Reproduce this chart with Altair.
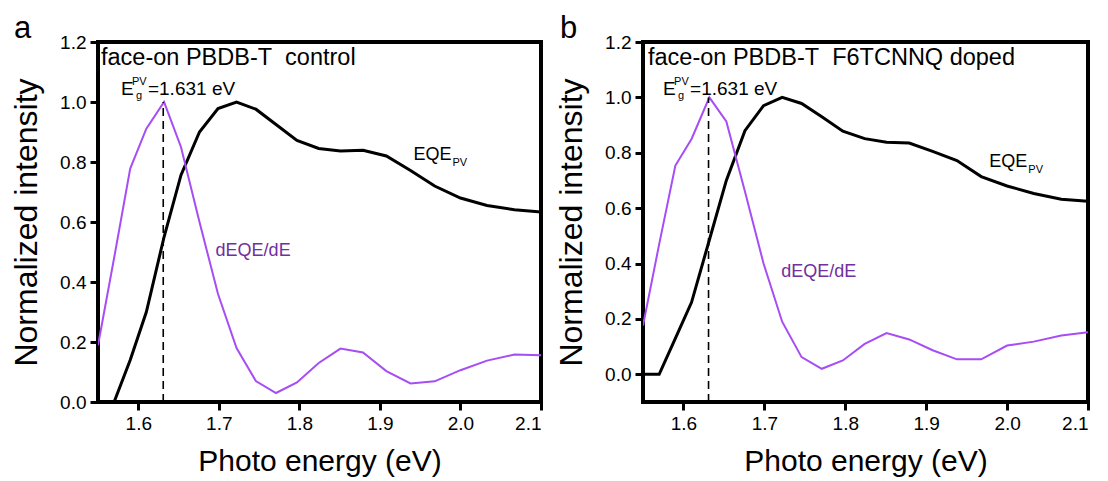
import altair as alt
import pandas as pd

# photon energies of the data points (eV)
energy = [1.550, 1.570, 1.590, 1.610, 1.632, 1.653, 1.676, 1.699, 1.722, 1.746, 1.771,
          1.797, 1.824, 1.851, 1.879, 1.908, 1.938, 1.968, 2.000, 2.033, 2.067, 2.100]

# panel a: control
eqe_a = [0.0, 0.0, 0.14, 0.30, 0.55, 0.756, 0.90, 0.978, 1.0, 0.976, 0.925,
         0.872, 0.845, 0.837, 0.839, 0.82, 0.772, 0.72, 0.68, 0.655, 0.641, 0.633]
deqe_a = [0.189, 0.48, 0.778, 0.911, 1.0, 0.85, 0.60, 0.36, 0.18, 0.07, 0.03,
          0.065, 0.13, 0.178, 0.165, 0.103, 0.062, 0.069, 0.106, 0.138, 0.158, 0.156]

# panel b: F6TCNNQ doped
eqe_b = [0.0, 0.0, 0.13, 0.26, 0.485, 0.70, 0.88, 0.97, 1.0, 0.978, 0.93,
         0.878, 0.851, 0.838, 0.835, 0.805, 0.772, 0.714, 0.68, 0.653, 0.632, 0.625]
deqe_b = [0.176, 0.47, 0.754, 0.85, 1.0, 0.913, 0.66, 0.40, 0.19, 0.062, 0.02,
          0.05, 0.11, 0.149, 0.126, 0.087, 0.054, 0.054, 0.104, 0.118, 0.14, 0.152]

x_ticks = [1.6, 1.7, 1.8, 1.9, 2.0, 2.1]
y_ticks = [0.0, 0.2, 0.4, 0.6, 0.8, 1.0, 1.2]
eg_value = 1.631
eg_peak = 1.0

FONT = "Liberation Sans"
PURPLE = "#A64DF5"
PURPLE_TXT = "#7030A0"
NB = "\u00a0"


def panel(eqe, deqe, ymin, heading, letter, width, pos):
    df = pd.DataFrame({"E": energy, "EQE": eqe, "dEQE": deqe})
    one = pd.DataFrame({"k": [0]})
    xs = alt.Scale(domain=[1.55, 2.1], nice=False, zero=False)
    ys = alt.Scale(domain=[ymin, 1.2], nice=False, zero=False)
    x = alt.X("E:Q", scale=xs,
              axis=alt.Axis(values=x_ticks, format=".1f", title="Photo energy (eV)"))
    y = alt.Y("EQE:Q", scale=ys,
              axis=alt.Axis(values=y_ticks, format=".1f", title="Normalized intensity"))
    base = alt.Chart(df)
    l_eqe = base.mark_line(color="black", strokeWidth=3, clip=True).encode(x=x, y=y)
    l_de = base.mark_line(color=PURPLE, strokeWidth=2, clip=True).encode(
        x=alt.X("E:Q", scale=xs), y=alt.Y("dEQE:Q", scale=ys))
    rule = alt.Chart(one).mark_rule(color="black", strokeWidth=1.6, strokeDash=[8, 5]).encode(
        x=alt.datum(eg_value), y=alt.datum(ymin), y2=alt.datum(eg_peak))

    def txt(xv, yv, s, size, color="black", dx=0, dy=0):
        return alt.Chart(one).mark_text(text=s, font=FONT, fontSize=size, color=color,
                                        align="left", baseline="alphabetic", dx=dx, dy=dy).encode(
            x=alt.datum(xv), y=alt.datum(yv))

    letter_mark = alt.Chart(one).mark_text(
        text=letter, font=FONT, fontSize=31, color="black", align="left",
        baseline="alphabetic").encode(x=alt.value(pos["letter_dx"]), y=alt.value(-4))

    layers = [l_eqe, l_de, rule,
              txt(pos["head"][0], pos["head"][1], heading, 23.5),
              txt(pos["eg"][0], pos["eg"][1], "E", 19),
              txt(pos["eg"][0], pos["eg"][1], "PV", 11, dx=11, dy=-10),
              txt(pos["eg"][0], pos["eg"][1], "g", 11, dx=15, dy=4),
              txt(pos["eg"][0], pos["eg"][1], "=1.631 eV", 19, dx=27),
              txt(pos["eqe"][0], pos["eqe"][1], "EQE", 18),
              txt(pos["eqe"][0], pos["eqe"][1], "PV", 11, dx=39, dy=6),
              txt(pos["de"][0], pos["de"][1], "dEQE/dE", 18, color=PURPLE_TXT),
              letter_mark]
    return alt.layer(*layers).properties(width=width, height=360)


pos_a = {"head": (1.5537, 1.123), "eg": (1.5785, 1.023), "eqe": (1.9416, 0.807),
         "de": (1.696, 0.487), "letter_dx": -84}
pos_b = {"head": (1.5562, 1.117), "eg": (1.5748, 1.008), "eqe": (1.978, 0.748),
         "de": (1.7208, 0.351), "letter_dx": -83}

pa = panel(eqe_a, deqe_a, 0.0, "face-on PBDB-T" + NB + " control", "a", 443, pos_a)
pb = panel(eqe_b, deqe_b, -0.1, "face-on PBDB-T" + NB + " F6TCNNQ doped", "b", 445, pos_b)

chart = alt.hconcat(pa, pb, spacing=8).properties(
    padding={"left": 0, "top": 3, "right": 5, "bottom": 5}
).configure_view(stroke="black", strokeWidth=4).configure_axis(
    domain=False, grid=False, tickSize=8, tickWidth=3, tickColor="black",
    labelFont=FONT, labelFontSize=19, labelColor="black", labelPadding=4,
    titleFont=FONT, titleFontSize=30, titleFontWeight="normal", titleColor="black",
).configure_axisX(titlePadding=13).configure_axisY(titlePadding=16, titleFontSize=32)

chart.save("out.html", embed_options={"renderer": "svg", "actions": False})
